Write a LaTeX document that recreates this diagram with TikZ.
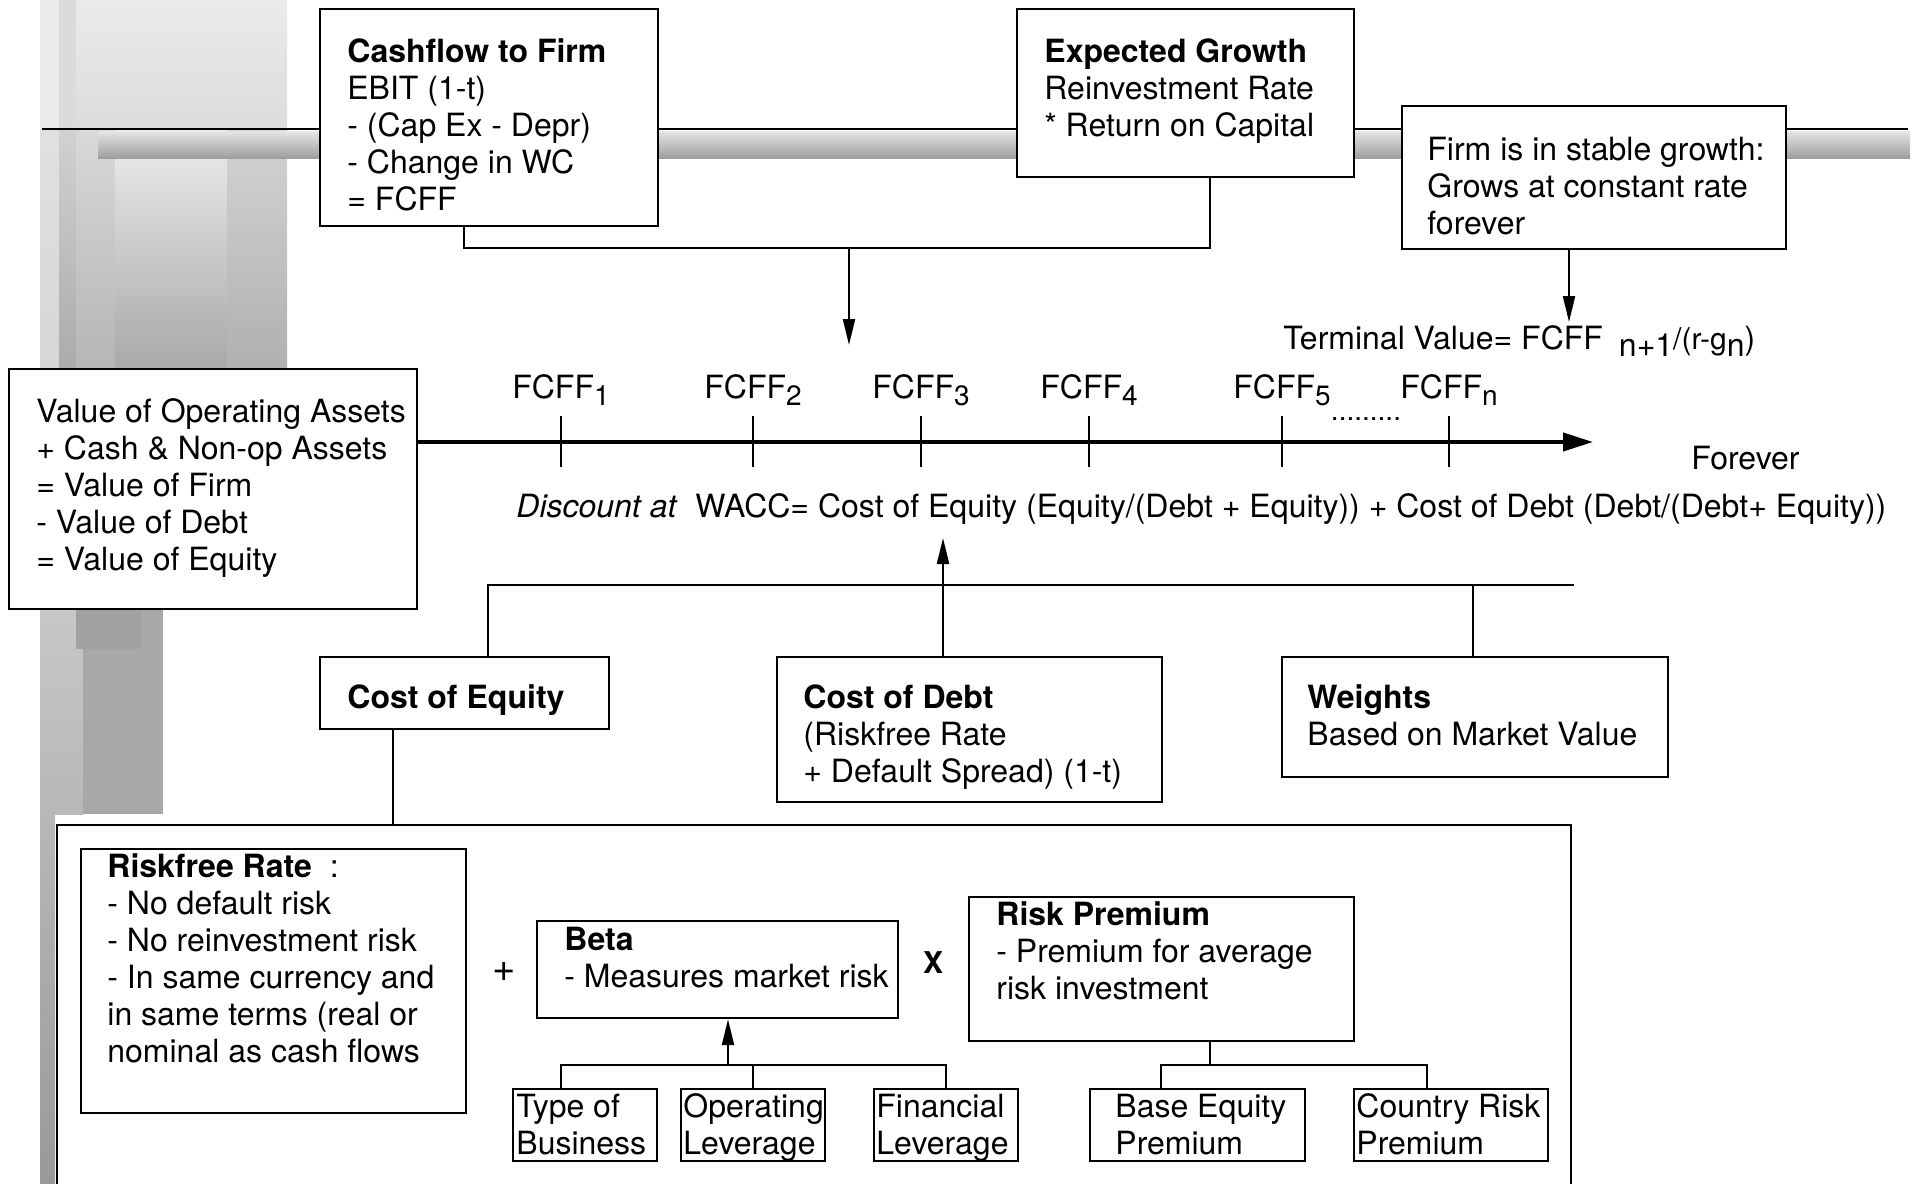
\documentclass[tikz,border=0pt]{standalone}
\usepackage{fontspec}
\setmainfont{TeX Gyre Heros}
\usetikzlibrary{arrows.meta,fit}

\newcommand\fs{\fontsize{16}{18.5}\selectfont}
\newcommand\lowsub[1]{\raisebox{-3.5pt}{\fontsize{14}{14}\selectfont #1}}

\tikzset{
  box/.style={draw, line width=1.2pt, fill=white, inner sep=0pt},
  txt/.style={anchor=north west, inner sep=0pt, align=left, font=\fs, yshift=-1.5pt},
  lbl/.style={anchor=base, inner sep=0pt, font=\fs},
  link/.style={line width=1.1pt},
  arr/.style={line width=1.1pt, -{Triangle[length=13pt,width=6pt]}},
}

\begin{document}
\begin{tikzpicture}[x=0.5pt, y=-0.5pt]
\useasboundingbox (0,0) rectangle (1916,1183);
% grey backdrop: column and bar
\shade[top color=black!8, bottom color=black!14] (40,0) rectangle (287,129);
\fill[black!8] (40,0) rectangle (59,129);
\fill[black!14] (59,0) rectangle (76,129);
\shade[top color=black!12, bottom color=black!16] (40,129) rectangle (59,369);
\shade[top color=black!18, bottom color=black!33] (59,129) rectangle (76,369);
\shade[top color=black!15, bottom color=black!29] (76,129) rectangle (115,369);
\shade[top color=black!7, bottom color=black!34] (115,129) rectangle (227,369);
\shade[top color=black!17, bottom color=black!31] (227,129) rectangle (287,369);
\shade[top color=black!22, bottom color=black!28] (40,609) rectangle (83,814);
\fill[black!34] (83,609) rectangle (163,814);
\fill[black!37] (76,609) rectangle (141,649);
\shade[top color=black!28, bottom color=black!40] (40,814) rectangle (55,1183);
\shade[top color=black!10, bottom color=black!38] (98,131) rectangle (1910,158);
\draw[line width=0.8pt] (42,129) -- (1908,129);

% top row
\node[box, fit={(320,9)(658,226)}] (cf) {};
\node[txt] (cftext) at (347,33) {\strut\textbf{Cashflow to Firm}\\EBIT (1-t)\\- (Cap Ex - Depr)\\- Change in WC\\= FCFF};
\node[box, fit={(1017,9)(1354,177)}] (eg) {};
\node[txt] (egtext) at (1044,33) {\strut\textbf{Expected Growth}\\Reinvestment Rate\\* Return on Capital};
\node[box, fit={(1402,106)(1786,249)}] (stable) {};
\node[txt] (stabletext) at (1427,131) {\strut Firm is in stable growth:\\Grows at constant rate\\forever};

\coordinate (j1) at (464,248);
\coordinate (j2) at (1210,248);
\coordinate (j3) at (849,248);
\coordinate (cfin) at (849,345);
\draw[link] (cf.south -| j1) -- (j1) -- (j2) -- (eg.south -| j2);
\draw[arr] (j3) -- (cfin);
\coordinate (tvtip) at (1569,322);
\draw[arr] (stable.south -| tvtip) -- (tvtip);
\node[lbl, anchor=base west] (tv) at (1283,349) {Terminal Value= FCFF\hspace{8pt}\raisebox{-3.5pt}{n+1}{\fontsize{15}{15}\selectfont/(r-g}\raisebox{-3.5pt}{n})};

% time line
\node[box, fit={(9,369)(417,609)}] (value) {};
\node[txt] (valuetext) at (36,393) {\strut Value of Operating Assets\\+ Cash \& Non-op Assets\\= Value of Firm\\- Value of Debt\\= Value of Equity};
\coordinate (tend) at (1593,442);
\draw[line width=2pt, -{Triangle[length=15pt,width=9pt]}] (value.east |- tend) -- (tend);
\foreach \x/\i in {561/1,753/2,921/3,1089/4,1282/5,1449/n}{
  \draw[line width=1pt] (\x,416) -- (\x,467);
  \node[lbl] (f\i) at (\x,398) {FCFF\lowsub{\i}};
}
\node[lbl, font=\fontsize{14}{14}\selectfont] (dots) at (1366,420) {.........};
\node[lbl, anchor=base west] (forever) at (1691,469) {Forever};
\node[lbl, anchor=base west] (disc) at (516,517) {\textit{Discount at}};
\node[lbl, anchor=base west] (wacc) at (695,517) {WACC= Cost of Equity (Equity/(Debt + Equity)) + Cost of Debt (Debt/(Debt+ Equity))};

% cost of capital inputs
\node[box, fit={(320,657)(609,729)}] (coe) {};
\node[txt] (coetext) at (347,679) {\strut\textbf{Cost of Equity}};
\node[box, fit={(777,657)(1162,802)}] (cod) {};
\node[txt] (codtext) at (803,679) {\strut\textbf{Cost of Debt}\\(Riskfree Rate\\+ Default Spread) (1-t)};
\node[box, fit={(1282,657)(1668,777)}] (weights) {};
\node[txt] (weightstext) at (1307,679) {\strut\textbf{Weights}\\Based on Market Value};

\coordinate (cst) at (488,585);
\coordinate (busr) at (1574,585);
\coordinate (wst) at (1473,585);
\coordinate (cda) at (943,538);
\draw[line width=1.4pt] (coe.north -| cst) -- (cst) -- (busr);
\draw[link] (wst) -- (weights.north -| wst);
\draw[arr] (cod.north -| cda) -- (cda);

% cost of equity breakdown
\coordinate (bgs) at (393,825);
\draw[link] (coe.south -| bgs) -- (bgs);
\draw[line width=1.2pt] (57,1195) -- (57,825) -- (1571,825) -- (1571,1195);

\node[box, fit={(81,849)(466,1113)}] (rf) {};
\node[txt] (rftext) at (107,848) {\strut\textbf{Riskfree Rate}\hspace{9pt}:\\- No default risk\\- No reinvestment risk\\- In same currency and\\in same terms (real or\\nominal as cash flows};
\node[lbl, anchor=center, font=\fontsize{20}{20}\selectfont] (plus) at (504,972) {+};
\node[box, fit={(537,921)(898,1018)}] (beta) {};
\node[txt] (betatext) at (564,921) {\strut\textbf{Beta}\\- Measures market risk};
\node[lbl, anchor=center, font=\fontsize{15}{15}\selectfont\bfseries] (times) at (933,963) {X};
\node[box, fit={(969,897)(1354,1041)}] (rp) {};
\node[txt] (rptext) at (996,896) {\strut\textbf{Risk Premium}\\- Premium for average\\risk investment};

\node[box, fit={(513,1089)(657,1161)}] (type) {};
\node[txt] (typetext) at (516,1088) {\strut Type of\\Business};
\node[box, fit={(681,1089)(825,1161)}] (oper) {};
\node[txt] (opertext) at (683,1088) {\strut Operating\\Leverage};
\node[box, fit={(874,1089)(1018,1161)}] (fin) {};
\node[txt] (fintext) at (876,1088) {\strut Financial\\Leverage};
\node[box, fit={(1090,1089)(1305,1161)}] (base) {};
\node[txt] (basetext) at (1115,1088) {\strut Base Equity\\Premium};
\node[box, fit={(1354,1089)(1548,1161)}] (ctry) {};
\node[txt] (ctrytext) at (1356,1088) {\strut Country Risk\\Premium};

\coordinate (bl) at (561,1065);
\coordinate (bb) at (728,1065);
\draw[link] (type.north -| bl) -- (bl) -- (fin.north |- bl) -- (fin.north);
\draw[link] (oper.north |- bl) -- (oper.north);
\draw[arr] (bb) -- (beta.south -| bb);
\coordinate (rl) at (1161,1065);
\coordinate (rr) at (1427,1065);
\coordinate (rs) at (1210,1065);
\draw[link] (base.north -| rl) -- (rl) -- (rr) -- (ctry.north -| rr);
\draw[link] (rs) -- (rp.south -| rs);
\end{tikzpicture}
\end{document}
